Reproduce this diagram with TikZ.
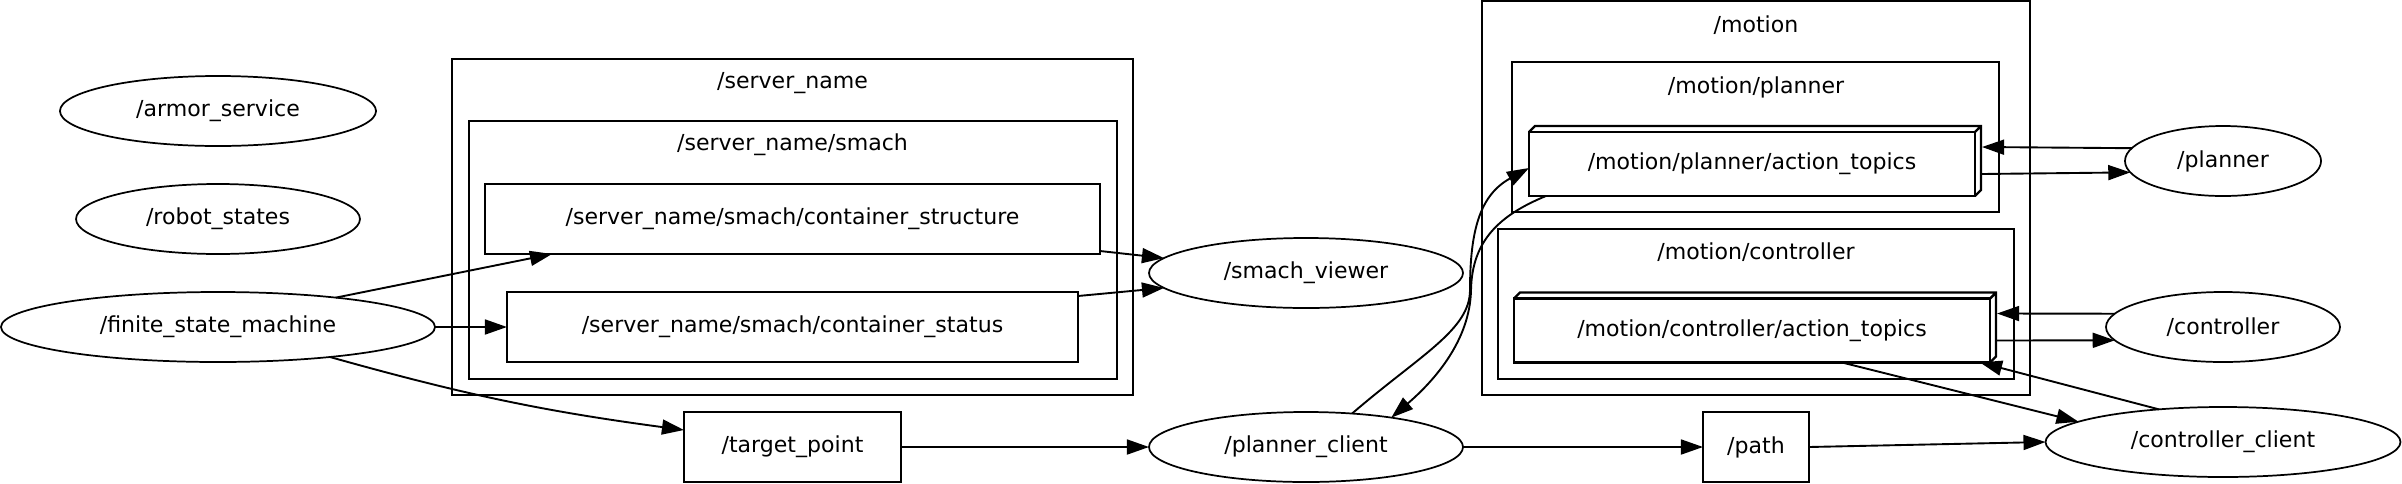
\documentclass[tikz,border=0pt]{standalone}
\usepackage{fontspec}
\setmainfont{DejaVu Sans}
\usepackage{tikz}
\usetikzlibrary{arrows.meta,shapes.geometric,calc}

\begin{document}
\begin{tikzpicture}[
  x=0.635pt, y=-0.635pt,
  font=\fontsize{14pt}{17pt}\selectfont,
  rosnode/.style={draw,ellipse,line width=1.1pt,inner sep=0pt,outer sep=0pt,minimum height=44.45pt},
  topic/.style={draw,line width=1.5pt,inner sep=0pt,outer sep=0pt,minimum height=44.45pt},
  action/.style={draw,line width=1.5pt,inner sep=0pt,outer sep=0pt,minimum height=40.6pt},
  cluster/.style={draw,line width=1.5pt,inner sep=0pt,outer sep=0pt},
  ctitle/.style={inner sep=0pt},
  arr/.style={-{Triangle[length=14pt,width=9.5pt]},line width=1.2pt}
]
\useasboundingbox (0,0) rectangle (2402,483);

% groups
\node[cluster,minimum width=432.4pt,minimum height=213.4pt] (srvname) at (792.5,227) {};
\node[cluster,minimum width=411.5pt,minimum height=163.8pt] (smach) at (793,250) {};
\node[cluster,minimum width=348pt,minimum height=250.2pt] (motion) at (1756,198) {};
\node[cluster,minimum width=309.2pt,minimum height=95.25pt] (mplanner) at (1755.5,137) {};
\node[cluster,minimum width=327.7pt,minimum height=95.25pt] (mcontroller) at (1756,304) {};
\node[ctitle] (srvtitle) at (792.5,83) {/server\_name};
\node[ctitle] (smachtitle) at (792.5,145) {/server\_name/smach};
\node[ctitle] (motiontitle) at (1756,25) {/motion};
\node[ctitle] (mplannertitle) at (1756,87) {/motion/planner};
\node[ctitle] (mcontrollertitle) at (1756,252) {/motion/controller};

% ros nodes
\node[rosnode,minimum width=200.7pt] (armor) at (218,111) {/armor\_service};
\node[rosnode,minimum width=180.3pt] (rstates) at (218,219) {/robot\_states};
\node[rosnode,minimum width=275.6pt] (fsm) at (218,327) {/finite\_state\_machine};
\node[rosnode,minimum width=199.4pt] (viewer) at (1306,273) {/smach\_viewer};
\node[rosnode,minimum width=199.4pt] (pclient) at (1306,447) {/planner\_client};
\node[rosnode,minimum width=124.5pt] (planner) at (2223,161) {/planner};
\node[rosnode,minimum width=148.6pt] (controller) at (2223,327) {/controller};
\node[rosnode,minimum width=225.4pt] (cclient) at (2223,442) {/controller\_client};

% topics
\node[topic,minimum width=390.5pt] (cstruct) at (792.5,219) {/server\_name/smach/container\_structure};
\node[topic,minimum width=362.6pt] (cstatus) at (792.5,327) {/server\_name/smach/container\_status};
\node[topic,minimum width=137.8pt] (tpoint) at (792.5,447) {/target\_point};
\node[topic,minimum width=67.3pt] (path) at (1756,447) {/path};
\node[action,minimum width=283.2pt] (pat) at (1752,164) {/motion/planner/action\_topics};
\node[action,minimum width=302.3pt] (cat) at (1752,330.5) {/motion/controller/action\_topics};
\foreach \n in {pat,cat}
  \draw[line width=1.5pt] (\n.north west) -- ++(6,-6) -| ($(\n.south east)+(6,-6)$) -- (\n.south east)
    (\n.north east) -- ++(6,-6);

% edges
\draw[arr] (fsm.14) -- ($(cstruct.south west)+(67,0)$);
\draw[arr] (fsm.east) -- (cstatus.west);
\draw[arr] (fsm.-15) to[bend right=4] ($(tpoint.west)+(0,-17)$);
\draw[arr] ($(cstruct.south east)+(0,-3)$) -- (viewer.174);
\draw[arr] ($(cstatus.north east)+(0,4)$) -- (viewer.186);
\draw[arr] (tpoint.east) -- (pclient.west);
\draw[arr] (pclient.36) .. controls (1420,355) and (1470,330) .. (1470,290)
  .. controls (1470,230) and (1480,195) .. ($(pat.west)+(0,4)$);
\draw[arr] ($(pat.south west)+(17,0)$) .. controls (1500,215) and (1472,240) .. (1471,290)
  .. controls (1470,340) and (1435,380) .. (pclient.19);
\draw[arr] (pclient.east) -- (path.west);
\draw[arr] (path.east) -- (cclient.west);
\draw[arr] ($(cat.south west)+(328,0)$) -- (cclient.172);
\draw[arr] (cclient.153) -- ($(cat.south east)+(-10,0)$);
\draw[arr] (planner.172) -- ($(pat.east)+(7,-17)$);
\draw[arr] ($(pat.east)+(7,10)$) -- (planner.187);
\draw[arr] (controller.173) -- ($(cat.east)+(7,-17)$);
\draw[arr] ($(cat.east)+(7,10)$) -- (controller.187);
\end{tikzpicture}
\end{document}
